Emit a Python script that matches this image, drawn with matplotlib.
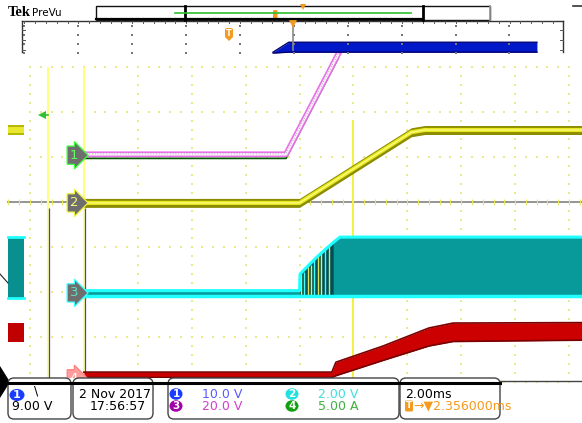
import numpy as np
import matplotlib
matplotlib.use('Agg')
import matplotlib.pyplot as plt
from matplotlib.patches import Rectangle, FancyBboxPatch, Ellipse, Polygon

W, H = 582, 423
# screen geometry in pixels: 2 ms/div, 45 px per vertical div
X0, PX_MS = 299.5, 26.95
Y0, PX_DIV = 202.0, 45.0


def t_of(px):
    return (px - X0) / PX_MS


def v_of(py):
    return (Y0 - py) / PX_DIV


# traces: time in ms, level in divisions from screen centre
blue_t = [-0.98, -0.40, 8.81]
blue_lo = [3.31, 3.33, 3.33]
blue_hi = [3.33, 3.55, 3.55]

pink_t = [-8.0, -0.50, 1.43]
pink_v = [1.06, 1.06, 3.28]

yellow_t = [-8.0, 0.0, 4.15, 4.65, 10.5]
yellow_v = [-0.02, -0.02, 1.55, 1.60, 1.60]

cyan_t = [-8.0, 0.0, 0.02, 0.65, 1.25, 1.50, 10.5]
cyan_hi = [-1.97, -1.97, -1.60, -1.22, -0.90, -0.78, -0.78]
cyan_lo = [-2.08, -2.08, -2.08, -2.08, -2.08, -2.08, -2.08]
cyan_spike_t = [0.05, 0.18, 0.30, 0.42, 0.55, 0.68, 0.80, 0.95, 1.10]
cyan_spike_v = [-1.60, -1.55, -1.45, -1.40, -1.30, -1.20, -1.10, -1.00, -0.95]

red_t = [-8.0, 1.20, 1.35, 3.10, 4.80, 5.70, 10.5]
red_hi = [-3.78, -3.78, -3.56, -3.20, -2.80, -2.69, -2.68]
red_lo = [-3.90, -3.90, -3.86, -3.52, -3.20, -3.10, -3.07]

# short stubs at the left edge of the screen
stub_t = [-10.82, -10.22]
stub_yellow = (1.49, 1.71)
stub_cyan = (-2.13, -0.78)
stub_red = (-3.11, -2.69)

# channel flags on the left
flag_labels = ['1', '2', '3', '4']
flag_levels = [1.04, -0.02, -2.02, -3.93]
flag_edge = ['#40ff40', '#f0f040', '#40ffff', '#ff8080']
flag_text = ['#60ff60', '#f8f880', '#60e0c0', '#ffffff']
flag_face = ['#6e6e6e', '#6e6e6e', '#6e6e6e', '#ff9c9c']

# info bar
trig_level = '9.00 V'
date_str, time_str = '2 Nov 2017', '17:56:57'
ch_labels = ['1', '3', '2', '4']
ch_scales = ['10.0 V', '20.0 V', '2.00 V', '5.00 A']
ch_fill = ['#1a3cff', '#a000a8', '#20e0e0', '#10a010']
ch_color = ['#5a5aff', '#d040d0', '#40e0e0', '#40b040']
timebase = '2.00ms'
trig_pos = '2.356000ms'

NARROW = ['Liberation Sans Narrow', 'DejaVu Sans']
ORANGE = '#f59a20'

fig = plt.figure(figsize=(W / 100, H / 100), dpi=100)
fig.patch.set_facecolor('white')
ax = fig.add_axes([0, 0, 1, 1])
ax.set_xlim(t_of(0), t_of(W))
ax.set_ylim(v_of(H), v_of(0))
ax.axis('off')

# dotted graticule
GRID = '#eaea8c'
xs = np.arange(-10, 10.01, 0.4)
hv = np.arange(-4, 3.01, 1.0)
gx, gy = np.meshgrid(xs, hv)
ax.scatter(gx.ravel(), gy.ravel(), s=1.1, c=GRID, marker='s', linewidths=0, zorder=1)
vt = np.arange(-10, 10.01, 2.0)
ys = np.arange(-4, 3.01, 0.2)
gx, gy = np.meshgrid(vt, ys)
ax.scatter(gx.ravel(), gy.ravel(), s=1.1, c=GRID, marker='s', linewidths=0, zorder=1)

# centre axis
ax.plot([t_of(8), t_of(W)], [0, 0], color='#8c8c8c', lw=1.3, zorder=2)
tick_t = np.arange(-10.8, 10.5, 0.4)
ax.plot(tick_t, np.zeros_like(tick_t), ls='none', marker='|', ms=5, mew=0.8,
        color='#e8e860', zorder=2)

# cursor-like verticals
ax.vlines([-9.33, -8.0], v_of(378), v_of(67), color='#ffff88', lw=1.6, zorder=3)
ax.vlines([2.0], v_of(378), v_of(120), color='#f4f040', lw=1.4, zorder=3)
ax.vlines([-9.28, -7.96], v_of(378), v_of(208), color='#3a3aff', lw=0.9, zorder=3)

# red trace
ax.fill_between(red_t, red_lo, red_hi, color='#cc0000', lw=0, zorder=4)
ax.plot(red_t, red_hi, color='#780000', lw=1.2, zorder=4)
ax.plot(red_t, red_lo, color='#780000', lw=1.2, zorder=4)

# cyan trace
ax.fill_between(cyan_t, cyan_lo, cyan_hi, color='#089a9a', lw=0, zorder=4)
ax.fill_between(cyan_t[1:5], cyan_lo[1:5], cyan_hi[1:5], color='#00505a', lw=0, zorder=4)
ax.vlines(cyan_spike_t, cyan_lo[0], cyan_spike_v,
          colors=['#f0f040', '#40ffff', '#e0e060'] * 3, lw=1.0, zorder=4)
ax.plot(cyan_t, cyan_hi, color='#20ffff', lw=2.2, zorder=5)
ax.plot(cyan_t, cyan_lo, color='#20ffff', lw=2.5, zorder=5)

# yellow trace
yv = np.array(yellow_v)
ax.fill_between(yellow_t, yv - 0.1, yv + 0.1, color='#8c8c00', lw=0, zorder=5)
ax.plot(yellow_t, yellow_v, color='#e8e820', lw=3, zorder=6)
ax.plot(yellow_t, yellow_v, color='#ffff90', lw=0.8, zorder=6)

# pink trace with green shadow
pv = np.array(pink_v)
ax.plot(pink_t, pv - 0.09, color='#005a00', lw=1.3, zorder=5)
ax.plot(pink_t, pink_v, color='#e870e8', lw=4.2, zorder=6)
ax.plot(pink_t, pink_v, color='#fff0ff', lw=1.8, zorder=6)
ax.plot(pink_t, pv + 0.01, color='#40a040', lw=0.5, ls=(0, (1, 3)), zorder=6)

# blue trace
ax.fill_between(blue_t, blue_lo, blue_hi, color='#0018c8', lw=0, zorder=6)
ax.plot(blue_t, blue_hi, color='#000070', lw=1.0, zorder=6)
ax.plot(blue_t, blue_lo, color='#000070', lw=1.0, zorder=6)

# stubs at the left edge
ax.fill_between(stub_t, *stub_yellow, color='#b8b800', lw=0, zorder=5)
ax.fill_between(stub_t, stub_yellow[0] + 0.05, stub_yellow[1] - 0.05, color='#e8e830', lw=0, zorder=5)
ax.fill_between(stub_t, *stub_cyan, color='#089090', lw=0, zorder=5)
ax.plot(stub_t, [stub_cyan[0]] * 2, color='#20ffff', lw=2, zorder=5)
ax.plot(stub_t, [stub_cyan[1]] * 2, color='#20ffff', lw=2, zorder=5)
ax.fill_between(stub_t, *stub_red, color='#c00000', lw=0, zorder=5)

# channel flags
for lab, lev, ec, tc, fc in zip(flag_labels, flag_levels, flag_edge, flag_text, flag_face):
    ax.text(t_of(74), lev, lab, ha='center', va='center', fontsize=9.5,
            color=tc, zorder=8, family=NARROW,
            bbox=dict(boxstyle='rarrow,pad=0.2', fc=fc, ec=ec, lw=0.9))

# ---- overlay for the scope chrome (pixel coordinates)
ov = fig.add_axes([0, 0, 1, 1])
ov.set_zorder(10)
ov.patch.set_alpha(0)
ov.set_xlim(0, W)
ov.set_ylim(H, 0)
ov.axis('off')

ov.add_patch(Rectangle((0, 378), 500, 5, fc='white', ec='none'))
ov.add_patch(Rectangle((0, 383), W, H - 383, fc='white', ec='none'))
ov.add_patch(Polygon([(0, 366), (10, 382), (0, 398)], closed=True, fc='black', ec='none'))
ov.plot([0, 8], [274, 283], color='#222', lw=0.8)

# trigger level arrow
ov.plot([41, 48], [115, 115], color='#30c030', lw=1.2)
ov.plot(42, 115, marker='<', ms=6, color='#30c030', mew=0)

# top strip
ov.plot([22, 563], [21, 21], color='#333', lw=1)
ov.plot([22, 22], [21, 52], color='#333', lw=1)
ov.plot([563, 563], [21, 52], color='#333', lw=1)
for x in np.arange(24.4, 563, 10.78):
    ov.plot([x, x], [21, 23.5], color='#555', lw=0.7)
for y in [30, 40, 50]:
    ov.plot([22, 25], [y, y], color='#555', lw=0.7)
    ov.plot([560, 563], [y, y], color='#555', lw=0.7)
tx, ty = np.meshgrid(np.arange(24.4, 563, 53.9), np.arange(26, 58, 9))
ov.scatter(tx.ravel(), ty.ravel(), s=1.0, c='#777', marker='s', linewidths=0)

ov.plot([293, 293], [25, 50], color='#8a8a8a', lw=1.2)
ov.plot(293, 23, marker='v', ms=7, color=ORANGE, mew=0)
ov.add_patch(FancyBboxPatch((225, 28), 8, 10, boxstyle='round,pad=0,rounding_size=2',
                            fc=ORANGE, ec='none'))
ov.add_patch(Polygon([(225, 37), (233, 37), (229, 41)], fc=ORANGE, ec='none'))
ov.text(229, 33, 'T', color='white', fontsize=6, fontweight='bold', ha='center', va='center')

# header
ov.text(8, 13, 'Tek', fontsize=10.5, fontweight='bold', family='Liberation Serif',
        ha='left', va='center')
ov.text(32, 13, 'PreVu', fontsize=7.5, family=NARROW, ha='left', va='center')
ov.add_patch(Rectangle((96, 6), 394, 14, fill=False, ec='#111', lw=1))
ov.plot([490, 490], [6, 20], color='#999', lw=1.2)
ov.plot([185, 185], [6, 20], color='black', lw=2)
ov.plot([423, 423], [6, 20], color='black', lw=2)
ov.plot([96, 423], [19.5, 19.5], color='black', lw=1.6)
ov.plot([175, 411], [12.7, 12.7], color='#30c030', lw=1.2)
ov.add_patch(FancyBboxPatch((273, 10), 4.5, 9, boxstyle='round,pad=0,rounding_size=1.5',
                            fc=ORANGE, ec='none'))
ov.plot(303, 7.5, marker='v', ms=5, color=ORANGE, mew=0)
ov.plot([573, 582], [6, 6], color='#333', lw=1.2)

# info boxes
for x, w in [(8, 63), (73, 80), (168, 231), (400, 100)]:
    ov.add_patch(FancyBboxPatch((x, 378), w, 41, boxstyle='round,pad=0,rounding_size=6',
                                fc='white', ec='#444', lw=1))
ov.plot([8, 500], [383, 383], color='black', lw=2.2)
ov.plot([500, W], [381, 381], color='#444', lw=1)

ov.add_patch(Ellipse((17, 395), 15, 12, fc=ch_fill[0], ec='none'))
ov.text(17, 395, '1', color='white', fontsize=8, fontweight='bold', ha='center', va='center')
ov.text(36, 391, '\\', fontsize=9, family=NARROW, ha='center', va='center')
ov.text(12, 406, trig_level, fontsize=9, family=NARROW, ha='left', va='center')

ov.text(151, 394, date_str, fontsize=9, family=NARROW, ha='right', va='center')
ov.text(90, 406, time_str, fontsize=9, family=NARROW, ha='left', va='center')

pos = [(176, 394), (176, 406), (292, 394), (292, 406)]
for (cx, cy), lab, sc, fc, tc in zip(pos, ch_labels, ch_scales, ch_fill, ch_color):
    ov.add_patch(Ellipse((cx, cy), 13, 11.5, fc=fc, ec='none'))
    ov.text(cx, cy, lab, color='white', fontsize=7.5, fontweight='bold', ha='center', va='center')
    ov.text(cx + 26, cy, sc, color=tc, fontsize=9, family=NARROW, ha='left', va='center')

ov.text(405, 394, timebase, fontsize=9, family=NARROW, ha='left', va='center')
ov.add_patch(FancyBboxPatch((405, 400.5), 8, 11, boxstyle='round,pad=0,rounding_size=1.5',
                            fc=ORANGE, ec='none'))
ov.text(409, 406, 'T', color='white', fontsize=6.5, fontweight='bold', ha='center', va='center')
ov.text(413, 406, '\u2192\u25bc' + trig_pos, color=ORANGE, fontsize=9, family=NARROW,
        ha='left', va='center')

fig.savefig('out.png', dpi=100)
